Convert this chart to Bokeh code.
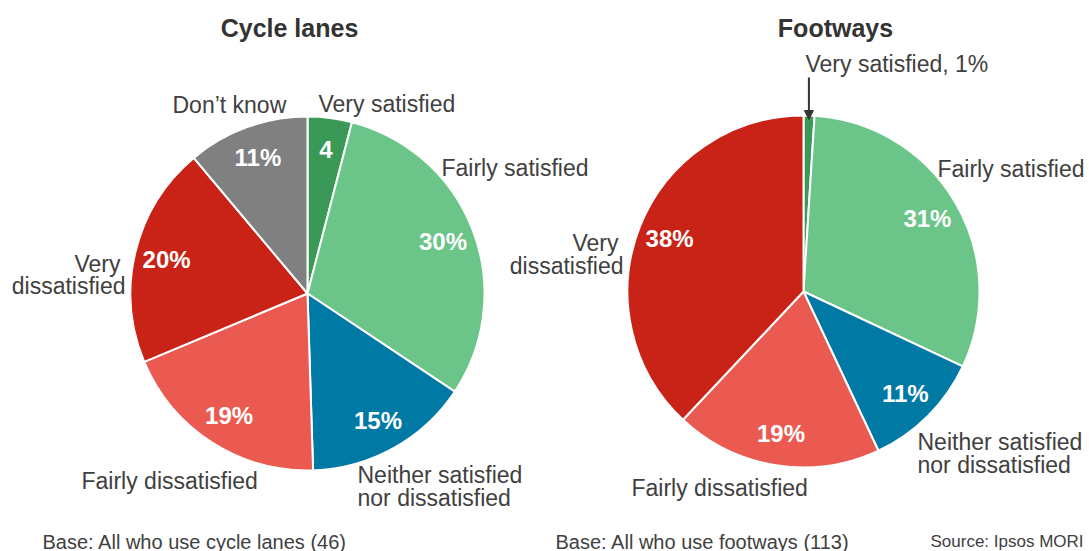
import math
from bokeh.plotting import figure
from bokeh.models import Range1d, Arrow, NormalHead, ColumnDataSource
from bokeh.core.properties import value
from bokeh.embed import file_html
from bokeh.resources import INLINE

# ---------------- data ----------------
cycle_categories = ["Very satisfied", "Fairly satisfied", "Neither satisfied nor dissatisfied",
                    "Fairly dissatisfied", "Very dissatisfied", "Don’t know"]
cycle_values = [4, 30, 15, 19, 20, 11]
cycle_value_labels = ["4", "30%", "15%", "19%", "20%", "11%"]

foot_categories = ["Very satisfied", "Fairly satisfied", "Neither satisfied nor dissatisfied",
                   "Fairly dissatisfied", "Very dissatisfied"]
foot_values = [1, 31, 11, 19, 38]
foot_value_labels = ["", "31%", "11%", "19%", "38%"]

titles = ["Cycle lanes", "Footways"]
base_notes = ["Base: All who use cycle lanes (46)", "Base: All who use footways (113)"]
source_note = "Source: Ipsos MORI"

# ---------------- styles ----------------
colors = {
    "Very satisfied": "#3a9956",
    "Fairly satisfied": "#6cc588",
    "Neither satisfied nor dissatisfied": "#0079a5",
    "Fairly dissatisfied": "#ea5a51",
    "Very dissatisfied": "#c92216",
    "Don’t know": "#808080",
}
FONT = "Liberation Sans"
LABEL_COLOR = "#404040"

W, H = 1089, 551


def X(px):
    return px


def Y(py):
    return H - py


p = figure(width=W, height=H, output_backend="svg", toolbar_location=None,
           x_range=Range1d(0, W), y_range=Range1d(0, H), min_border=0)
p.axis.visible = False
p.grid.visible = False
p.outline_line_color = None
p.background_fill_color = "white"
p.border_fill_color = "white"


def draw_pie(cx, cy, r, cats, vals, labels, label_r):
    total = float(sum(vals))
    starts, ends, cols, mids = [], [], [], []
    cum = 0.0
    for c, v in zip(cats, vals):
        a0 = math.pi / 2 - 2 * math.pi * cum / total
        cum += v
        a1 = math.pi / 2 - 2 * math.pi * cum / total
        starts.append(a0)
        ends.append(a1)
        mids.append((a0 + a1) / 2)
        cols.append(colors[c])
    src = ColumnDataSource(dict(start=starts, end=ends, color=cols))
    p.wedge(x=cx, y=cy, radius=r, start_angle="start", end_angle="end",
            direction="clock", fill_color="color", line_color="white",
            line_width=2, source=src)
    lx = [cx + label_r * math.cos(m) for m in mids]
    ly = [cy + label_r * math.sin(m) for m in mids]
    p.text(x=lx, y=ly, text=labels, text_font=value(FONT), text_font_style="bold",
           text_font_size="24px", text_color="white", text_align="center",
           text_baseline="middle")
    return mids


def txt(x, y, s, size="23px", align="left", style="normal", color=LABEL_COLOR, lh=1.0):
    p.text(x=[x], y=[y], text=[s], text_font=value(FONT), text_font_size=size,
           text_font_style=style, text_color=color, text_align=align,
           text_baseline="middle", text_line_height=lh)


# Left pie
R1 = 177
draw_pie(X(307), Y(293), R1, cycle_categories, cycle_values, cycle_value_labels, 145)
# Right pie
R2 = 176
mids2 = draw_pie(X(803), Y(291), R2, foot_categories, foot_values, foot_value_labels, 144)

# Titles
txt(X(289), Y(27), titles[0], size="25px", align="center", style="bold", color="#333333")
txt(X(835), Y(27), titles[1], size="25px", align="center", style="bold", color="#333333")

# Left labels
txt(X(172), Y(104), "Don’t know")
txt(X(318), Y(103), "Very satisfied")
txt(X(441), Y(167), "Fairly satisfied")
txt(X(120), Y(263), "Very", align="right")
txt(X(125), Y(285), "dissatisfied", align="right")
txt(X(81), Y(480), "Fairly dissatisfied")
txt(X(357), Y(474), "Neither satisfied")
txt(X(357), Y(497), "nor dissatisfied")

# Right labels
txt(X(805), Y(63), "Very satisfied, 1%")
txt(X(937), Y(168), "Fairly satisfied")
txt(X(618), Y(242), "Very", align="right")
txt(X(623), Y(265), "dissatisfied", align="right")
txt(X(631), Y(487), "Fairly dissatisfied")
txt(X(917), Y(441), "Neither satisfied")
txt(X(917), Y(464), "nor dissatisfied")

# Arrow to the 1% slice
ax = X(803) + (R2 - 4) * math.cos(mids2[0])
ay = Y(291) + (R2 - 4) * math.sin(mids2[0])
p.add_layout(Arrow(end=NormalHead(size=9, fill_color="#333333", line_color="#333333"),
                   x_start=ax, y_start=Y(77), x_end=ax, y_end=ay,
                   line_color="#333333", line_width=2))

# Footnotes
txt(X(42), Y(541), base_notes[0], size="20px")
txt(X(555), Y(541), base_notes[1], size="20px")
txt(X(930), Y(541), source_note, size="17px")

open("out.html", "w").write(file_html(p, INLINE))
